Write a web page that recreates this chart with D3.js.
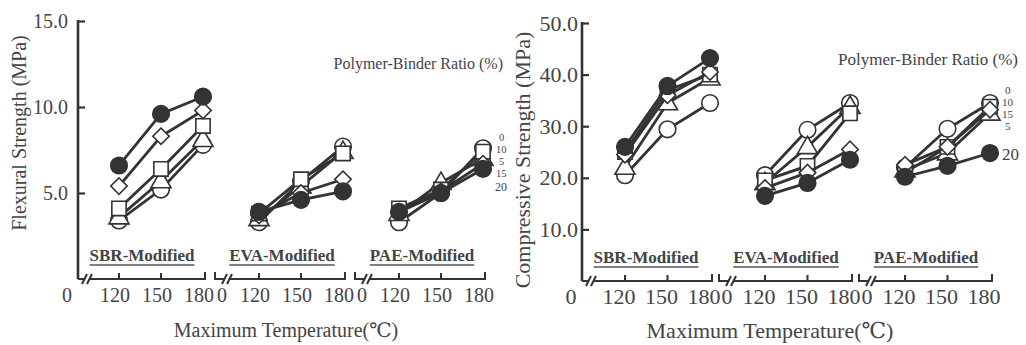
<!DOCTYPE html>
<html>
<head>
<meta charset="utf-8">
<script src="https://cdn.jsdelivr.net/npm/d3@7"></script>
<style>
  body { margin: 0; background: #fff; }
  svg text { font-family: "Liberation Serif", "DejaVu Serif", serif; }
</style>
</head>
<body>
<svg id="chart" width="1026" height="345"></svg>
<script>
// DATA -------------------------------------------------
const groups = ["SBR-Modified", "EVA-Modified", "PAE-Modified"];
const temps = [120, 150, 180];
const ratios = [0, 5, 10, 15, 20];

// each series: SBR 120/150/180, EVA 120/150/180, PAE 120/150/180
const flex0  = [3.4, 5.2, 7.8,   3.3, 5.7, 7.7,   3.3, 5.0, 7.6];
const flex5  = [3.6, 5.7, 8.1,   3.5, 5.4, 7.4,   3.8, 5.6, 7.0];
const flex10 = [4.1, 6.4, 8.9,   3.8, 5.8, 7.3,   4.1, 5.2, 7.4];
const flex15 = [5.4, 8.3, 9.8,   3.7, 5.0, 5.8,   3.9, 5.1, 6.7];
const flex20 = [6.6, 9.6, 10.6,  3.9, 4.6, 5.1,   3.9, 5.0, 6.4];

const comp0  = [20.5, 29.4, 34.5,  20.5, 29.3, 34.5,  22.0, 29.5, 34.5];
const comp5  = [22.0, 34.5, 39.3,  19.0, 26.0, 33.8,  21.5, 24.8, 32.5];
const comp10 = [25.0, 37.0, 40.0,  19.5, 22.3, 32.5,  21.0, 26.0, 33.8];
const comp15 = [24.5, 36.0, 40.5,  18.0, 21.0, 25.5,  22.5, 26.0, 33.2];
const comp20 = [26.0, 37.8, 43.2,  16.5, 19.0, 23.5,  20.2, 22.3, 24.8];

const flexTicks = [5, 10, 15];
const compTicks = [10, 20, 30, 40, 50];

// order of the ratio labels at the right end of each panel
const flexLabelOrder = ["0", "10", "5", "15", "20"];
const compLabelOrder = ["0", "10", "15", "5", "20"];

const ink = "#333";
const serif = "Liberation Serif, DejaVu Serif, serif";
const svg = d3.select("#chart");

// marker for each ratio
function marker(sel, ratio) {
  if (ratio === 0 || ratio === 20) {
    sel.append("circle").attr("r", 8.3)
      .attr("fill", ratio === 20 ? ink : "#fff");
  } else if (ratio === 5) {
    sel.append("path").attr("d", d3.symbol(d3.symbolTriangle, 175)())
      .attr("transform", "translate(0,1)").attr("fill", "#fff");
  } else if (ratio === 10) {
    sel.append("path").attr("d", d3.symbol(d3.symbolSquare, 205)()).attr("fill", "#fff");
  } else {
    sel.append("path").attr("d", d3.symbol(d3.symbolSquare, 135)())
      .attr("transform", "rotate(45)").attr("fill", "#fff");
  }
}

function label(g, x, y, txt, size, anchor) {
  return g.append("text")
    .attr("x", x).attr("y", y)
    .attr("text-anchor", anchor || "start")
    .attr("font-family", serif)
    .attr("font-size", size)
    .attr("fill", "#444")
    .text(txt);
}

function drawPanel(p) {
  const g = svg.append("g");

  const y = d3.scaleLinear().domain([0, p.yMax]).range([p.yBase, p.yTop]);
  const band = d3.scaleBand().domain(groups).range([p.ax, p.ax + 3 * p.step]);
  const tx = d3.scaleLinear().domain([120, 180]).range([p.off, p.off + p.span]);
  const X = (grp, t) => band(grp) + tx(t);
  const yb = y(0);

  // y axis
  const yAxis = d3.axisLeft(y)
    .tickValues(p.ticks)
    .tickFormat(d3.format(".1f"))
    .tickSize(-7)
    .tickPadding(p.tickPad);
  const ya = g.append("g").attr("transform", `translate(${p.ax},0)`).call(yAxis)
    .attr("font-family", serif).attr("font-size", p.fs);
  ya.select(".domain").remove();
  ya.selectAll(".tick line").attr("stroke", ink).attr("stroke-width", 2.2);
  ya.selectAll(".tick text").attr("fill", "#444");

  g.append("line")
    .attr("x1", p.ax).attr("x2", p.ax)
    .attr("y1", y(p.yMax) - 1).attr("y2", yb)
    .attr("stroke", ink).attr("stroke-width", 2.6);

  // broken x axis, one piece per group
  groups.forEach((grp, i) => {
    const bx = band(grp);
    const end = X(grp, 180) + 2;
    let d = "";
    if (i === 0) {
      d += `M${bx},${yb}L${bx + 6},${yb}`;
    } else {
      d += `M${bx - 3},${yb - 7}L${bx - 3},${yb}L${bx + 6},${yb}`;
    }
    d += `M${bx + 4},${yb + 5}L${bx + 9},${yb - 5}`;
    d += `M${bx + 9},${yb + 5}L${bx + 14},${yb - 5}`;
    d += `M${bx + 11},${yb}L${end},${yb}L${end},${yb - 7}`;
    temps.slice(0, 2).forEach(t => { d += `M${X(grp, t)},${yb}L${X(grp, t)},${yb - 6}`; });
    g.append("path").attr("d", d)
      .attr("fill", "none").attr("stroke", ink).attr("stroke-width", 2);

    // tick labels
    label(g, i === 0 ? p.ax - 11 : bx + p.zeroOff, yb + 23, "0", p.fs, "middle");
    temps.forEach(t => label(g, X(grp, t) - p.labShift, yb + 23, t, p.fs, "middle"));

    // group label, underlined
    const lbl = label(g, bx + 64, yb - 18, grp, 17, "middle").attr("font-weight", "bold");
    const w = lbl.node().getComputedTextLength();
    g.append("line")
      .attr("x1", bx + 64 - w / 2).attr("x2", bx + 64 + w / 2)
      .attr("y1", yb - 14).attr("y2", yb - 14)
      .attr("stroke", "#555").attr("stroke-width", 1.3);
  });

  // series
  ratios.forEach((r, si) => {
    const vals = p.series[si];
    groups.forEach((grp, gi) => {
      const pts = temps.map((t, ti) => [X(grp, t), y(vals[gi * 3 + ti])]);
      g.append("path")
        .attr("d", d3.line()(pts))
        .attr("fill", "none").attr("stroke", ink).attr("stroke-width", 2.8);
      pts.forEach(pt => {
        const m = g.append("g")
          .attr("transform", `translate(${pt[0]},${pt[1]})`)
          .attr("stroke", ink).attr("stroke-width", 1.6);
        marker(m, r);
      });
    });
  });

  // axis titles
  label(g, 0, 0, p.yTitle, p.fsTitle, "middle")
    .attr("transform", `translate(${p.ylx},${p.yly}) rotate(-90)`);
  label(g, p.xlx, p.xly, "Maximum Temperature(℃)", p.fsTitle, "middle");

  // legend
  label(g, p.legX, p.legY, "Polymer-Binder Ratio (%)", p.legFs, "end");
  p.labelOrder.forEach((lab, i) => label(g, p.labX[i], p.labY[i], lab, p.labFs[i]));
}

drawPanel({
  ax: 78, step: 140, off: 41, span: 84,
  yMax: 15, yBase: 279, yTop: 21,
  ticks: flexTicks, tickPad: 10, fs: 20, fsTitle: 20,
  zeroOff: 4, labShift: 4,
  series: [flex0, flex5, flex10, flex15, flex20],
  yTitle: "Flexural Strength (MPa)", ylx: 26, yly: 133,
  xlx: 286, xly: 337,
  legX: 503, legY: 69, legFs: 16,
  labelOrder: flexLabelOrder,
  labX: [499, 496, 499, 496, 495],
  labY: [141, 153, 165, 177, 191],
  labFs: [10.5, 10.5, 10.5, 10.5, 12]
});

drawPanel({
  ax: 582, step: 140, off: 43, span: 85,
  yMax: 50, yBase: 281, yTop: 23,
  ticks: compTicks, tickPad: 4, fs: 22, fsTitle: 22,
  zeroOff: 5, labShift: 6,
  series: [comp0, comp5, comp10, comp15, comp20],
  yTitle: "Compressive Strength (MPa)", ylx: 530, yly: 160,
  xlx: 770, xly: 338,
  legX: 1018, legY: 65, legFs: 17,
  labelOrder: compLabelOrder,
  labX: [1005, 1002, 1002, 1005, 1002],
  labY: [94, 106, 118, 130, 160],
  labFs: [11, 11, 11, 11, 17]
});
</script>
</body>
</html>
